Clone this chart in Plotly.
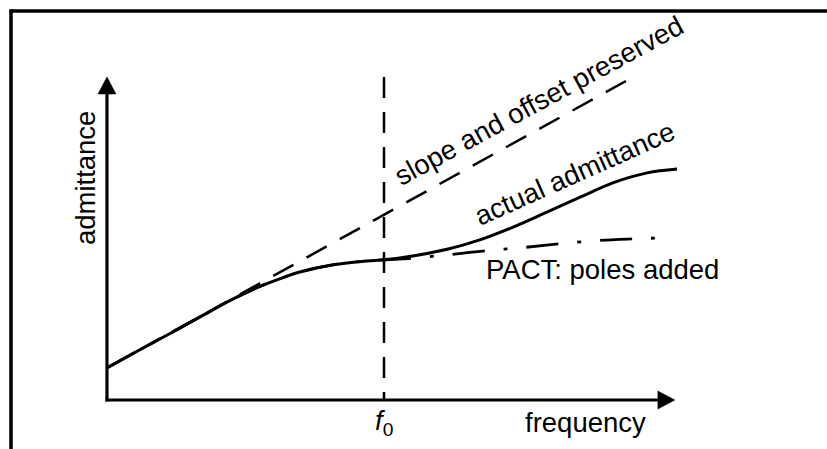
import plotly.graph_objects as go

# ---- data (arbitrary units: frequency on x, admittance on y) ----
x_actual = [0.0, 0.47, 1.08, 1.68, 2.27, 2.76, 3.18, 3.48, 4.08, 4.69, 5.0,
            5.52, 6.14, 6.73, 7.33, 7.94, 8.54, 9.13, 9.75, 10.29]
y_actual = [0.58, 0.84, 1.17, 1.50, 1.82, 2.05, 2.21, 2.31, 2.44, 2.51, 2.53,
            2.60, 2.72, 2.89, 3.12, 3.39, 3.66, 3.92, 4.10, 4.17]

x_pact = [0.0, 0.47, 1.08, 1.68, 2.27, 2.76, 3.18, 3.48, 4.08, 4.69, 5.0,
          5.52, 6.14, 6.91, 7.49, 8.18, 8.86, 9.53, 10.16]
y_pact = [0.58, 0.84, 1.17, 1.50, 1.82, 2.05, 2.21, 2.31, 2.44, 2.51, 2.53,
          2.56, 2.62, 2.70, 2.75, 2.82, 2.88, 2.91, 2.93]

x_slope = [0.0, 9.46]
y_slope = [0.58, 5.81]

f0 = 5.0
x_axis_end = 10.25
y_axis_end = 5.83

labels = {
    "slope": "slope and offset preserved",
    "actual": "actual admittance",
    "pact": "PACT: poles added",
    "xlab": "frequency",
    "ylab": "admittance",
    "f0": "<i>f</i><sub>0</sub>",
}

FONT = "Liberation Sans, Arial, Helvetica, sans-serif"
FS = 27.5

fig = go.Figure()

# axes lines
fig.add_trace(go.Scatter(x=[-0.027, x_axis_end - 0.15], y=[0, 0], mode="lines",
                         line=dict(color="black", width=3.2), hoverinfo="skip"))
fig.add_trace(go.Scatter(x=[0, 0], y=[-0.027, y_axis_end - 0.15], mode="lines",
                         line=dict(color="black", width=3.2), hoverinfo="skip"))

fig.add_trace(go.Scatter(x=x_slope, y=y_slope, mode="lines",
                         line=dict(color="black", width=2.5, dash="23px,15px"),
                         hoverinfo="skip"))
fig.add_trace(go.Scatter(x=[f0, f0], y=[y_axis_end, 0], mode="lines",
                         line=dict(color="black", width=2.5, dash="21px,14px"),
                         hoverinfo="skip"))
fig.add_trace(go.Scatter(x=x_pact, y=y_pact, mode="lines",
                         line=dict(color="black", width=2.8, dash="32px,19px,4px,19px",
                                   shape="spline", smoothing=1.0),
                         hoverinfo="skip"))
fig.add_trace(go.Scatter(x=x_actual, y=y_actual, mode="lines",
                         line=dict(color="black", width=3, shape="spline", smoothing=1.0),
                         hoverinfo="skip"))

annotations = [
    dict(x=7.80, y=5.41, text=labels["slope"], textangle=-28.5),
    dict(x=8.44, y=4.085, text=labels["actual"], textangle=-24),
    dict(x=8.94, y=2.35, text=labels["pact"]),
    dict(x=8.63, y=-0.40, text=labels["xlab"]),
    dict(x=-0.40, y=4.02, text=labels["ylab"], textangle=-90),
    dict(x=f0, y=-0.40, text=labels["f0"]),
]
for a in annotations:
    a["showarrow"] = False
    a["xanchor"] = "center"
    a["yanchor"] = "middle"
    a["font"] = dict(family=FONT, size=FS, color="black")

W, H = 827, 449
fig.update_layout(
    width=W, height=H,
    margin=dict(l=0, r=0, t=0, b=0),
    paper_bgcolor="white", plot_bgcolor="white",
    showlegend=False,
    xaxis=dict(range=[-1.931, 12.996], visible=False, fixedrange=True),
    yaxis=dict(range=[-0.884, 7.220], visible=False, fixedrange=True),
    annotations=annotations,
    shapes=[
        # outer frame (left and top)
        dict(type="line", xref="paper", yref="paper",
             x0=11 / W, x1=11 / W, y0=0, y1=1 - 9.5 / H,
             line=dict(color="black", width=3.5)),
        dict(type="line", xref="paper", yref="paper",
             x0=9.5 / W, x1=1, y0=1 - 11 / H, y1=1 - 11 / H,
             line=dict(color="black", width=3.5)),
        # arrowheads (pixel-sized, anchored at axis ends)
        dict(type="path", xref="x", yref="y", xsizemode="pixel", ysizemode="pixel",
             xanchor=x_axis_end, yanchor=0, path="M0,0 L-17,9 L-17,-9 Z",
             fillcolor="black", line=dict(color="black", width=0.5)),
        dict(type="path", xref="x", yref="y", xsizemode="pixel", ysizemode="pixel",
             xanchor=0, yanchor=y_axis_end, path="M0,0 L-9,-17 L9,-17 Z",
             fillcolor="black", line=dict(color="black", width=0.5)),
    ],
)

fig.write_html("out.html")
